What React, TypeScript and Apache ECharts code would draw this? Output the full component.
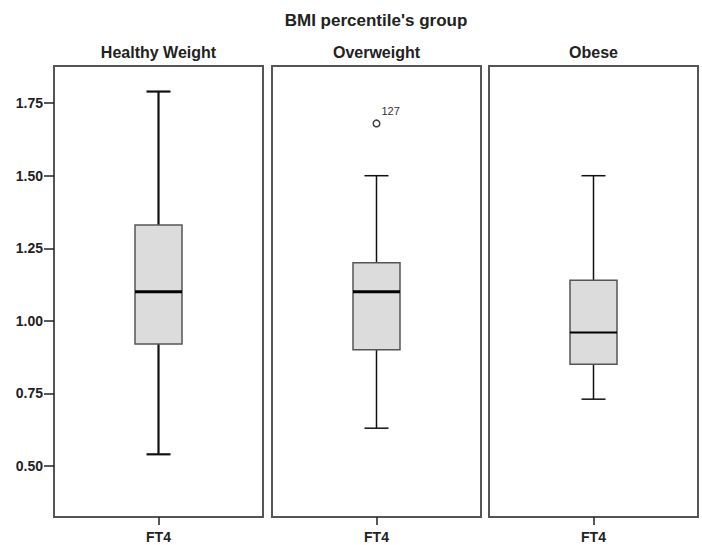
import React, { useEffect, useRef } from "react";
import * as echarts from "echarts";

const groups = ["Healthy Weight", "Overweight", "Obese"];
const xCategory = ["FT4"];
const whiskerLow = [0.54, 0.63, 0.73];
const q1 = [0.92, 0.9, 0.85];
const median = [1.1, 1.1, 0.96];
const q3 = [1.33, 1.2, 1.14];
const whiskerHigh = [1.79, 1.5, 1.5];
const outlierGroup = [1];
const outlierValue = [1.68];
const outlierLabel = ["127"];
const yTicks = [0.5, 0.75, 1.0, 1.25, 1.5, 1.75];
const yMin = 0.324;
const yMax = 1.878;
const mainTitle = "BMI percentile's group";

// styles (not data)
const gridLefts = [54, 272, 489];
const gridWidth = 209;
const gridTop = 66;
const gridHeight = 451;
const whiskerWidths = [2.2, 1.5, 1.5];
const medianWidths = [3, 3, 2];
const FONT = "'Liberation Sans', Arial, sans-serif";

export default function App() {
  const ref = useRef<HTMLDivElement>(null);
  useEffect(() => {
    if (!ref.current) return;
    const chart = echarts.init(ref.current, null, { renderer: "svg" });

    const grids = groups.map((_, i) => ({
      left: gridLefts[i],
      top: gridTop,
      width: gridWidth,
      height: gridHeight,
      show: true,
      borderColor: "#555",
      borderWidth: 2,
      backgroundColor: "transparent",
    }));

    const xAxes = groups.map((_, i) => ({
      type: "category",
      gridIndex: i,
      data: xCategory,
      axisLine: { show: false },
      axisTick: { show: true, alignWithLabel: true, length: 8, lineStyle: { color: "#222", width: 1.5 } },
      axisLabel: { show: true, margin: 13, color: "#222", fontSize: 14, fontWeight: "bold", fontFamily: FONT },
      splitLine: { show: false },
    }));

    const yAxes = groups.map((_, i) => ({
      type: "value",
      gridIndex: i,
      min: yMin,
      max: yMax,
      show: i === 0,
      axisLine: { show: false },
      splitLine: { show: false },
      axisTick: {
        show: i === 0,
        length: 10,
        customValues: yTicks,
        lineStyle: { color: "#222", width: 1.5 },
      },
      axisLabel: {
        show: i === 0,
        customValues: yTicks,
        margin: 11,
        color: "#222",
        fontSize: 14,
        fontWeight: "bold",
        fontFamily: FONT,
        formatter: (v: number) => v.toFixed(2),
      },
    }));

    const boxSeries = groups.map((_, i) => ({
      type: "custom",
      xAxisIndex: i,
      yAxisIndex: i,
      data: [[0, whiskerLow[i], q1[i], median[i], q3[i], whiskerHigh[i]]],
      encode: { x: 0, y: [1, 2, 3, 4, 5] },
      renderItem: (params: any, api: any) => {
        const x = api.value(0);
        const pLow = api.coord([x, api.value(1)]);
        const pQ1 = api.coord([x, api.value(2)]);
        const pMed = api.coord([x, api.value(3)]);
        const pQ3 = api.coord([x, api.value(4)]);
        const pHigh = api.coord([x, api.value(5)]);
        const cx = pLow[0];
        const bh = 23.5;
        const ch = 12;
        const wl = whiskerWidths[i];
        const wStyle = { stroke: "#111", lineWidth: wl };
        return {
          type: "group",
          children: [
            { type: "line", shape: { x1: cx, y1: pHigh[1], x2: cx, y2: pQ3[1] }, style: wStyle },
            { type: "line", shape: { x1: cx, y1: pQ1[1], x2: cx, y2: pLow[1] }, style: wStyle },
            { type: "line", shape: { x1: cx - ch, y1: pHigh[1], x2: cx + ch, y2: pHigh[1] }, style: wStyle },
            { type: "line", shape: { x1: cx - ch, y1: pLow[1], x2: cx + ch, y2: pLow[1] }, style: wStyle },
            {
              type: "rect",
              shape: { x: cx - bh, y: pQ3[1], width: bh * 2, height: pQ1[1] - pQ3[1] },
              style: { fill: "#dcdcdc", stroke: "#555", lineWidth: 1.5 },
            },
            {
              type: "line",
              shape: { x1: cx - bh, y1: pMed[1], x2: cx + bh, y2: pMed[1] },
              style: { stroke: "#000", lineWidth: medianWidths[i] },
            },
          ],
        };
      },
    }));

    const outlierSeries = outlierGroup.map((g, k) => ({
      type: "custom",
      xAxisIndex: g,
      yAxisIndex: g,
      data: [[0, outlierValue[k]]],
      encode: { x: 0, y: 1 },
      renderItem: (params: any, api: any) => {
        const p = api.coord([api.value(0), api.value(1)]);
        return {
          type: "group",
          children: [
            {
              type: "circle",
              shape: { cx: p[0], cy: p[1], r: 3.3 },
              style: { fill: "#fff", stroke: "#444", lineWidth: 1.5 },
            },
            {
              type: "text",
              x: p[0] + 5,
              y: p[1] - 12,
              style: {
                text: outlierLabel[k],
                fill: "#333",
                fontSize: 11,
                fontFamily: FONT,
                align: "left",
                verticalAlign: "middle",
              },
            },
          ],
        };
      },
    }));

    const graphicTexts = [
      {
        type: "text",
        x: 376,
        y: 20,
        style: {
          text: mainTitle,
          align: "center",
          verticalAlign: "middle",
          fontSize: 17,
          fontWeight: "bold",
          fontFamily: FONT,
          fill: "#222",
        },
      },
      ...groups.map((g, i) => ({
        type: "text",
        x: gridLefts[i] + gridWidth / 2,
        y: 52.5,
        style: {
          text: g,
          align: "center",
          verticalAlign: "middle",
          fontSize: 16,
          fontWeight: "bold",
          fontFamily: FONT,
          fill: "#222",
        },
      })),
    ];

    chart.setOption({
      animation: false,
      backgroundColor: "#fff",
      grid: grids,
      xAxis: xAxes,
      yAxis: yAxes,
      series: [...boxSeries, ...outlierSeries],
      graphic: graphicTexts,
    });
    return () => chart.dispose();
  }, []);
  return (
    <div
      ref={ref}
      style={{ position: "fixed", left: 0, top: 0, width: 702, height: 545 }}
    />
  );
}
